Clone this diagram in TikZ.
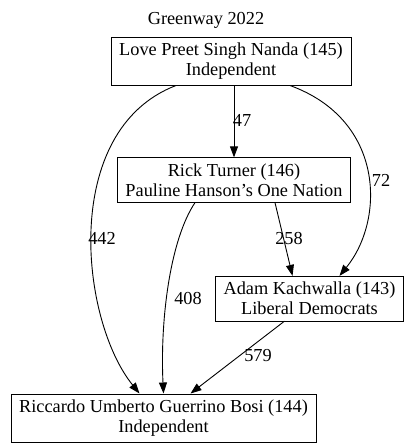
\documentclass[tikz,border=0pt]{standalone}
\usepackage{fontspec}
\setmainfont{Liberation Serif}
\usetikzlibrary{arrows.meta}
\tikzset{
  cand/.style={draw, align=center, inner xsep=8pt, inner ysep=6pt,
    font=\fontsize{18.3}{20}\selectfont},
  flow/.style={-{Triangle[length=11pt,width=8pt]}, line width=0.9pt},
  votes/.style={font=\fontsize{18.3}{20}\selectfont, inner sep=1pt}
}
\begin{document}
\begin{tikzpicture}[x=1pt, y=-1pt]
  \useasboundingbox (0,0) rectangle (413,448);
  \node[votes] (title) at (206,20) {Greenway 2022};
  \node[cand] (nanda) at (231,61) {Love Preet Singh Nanda (145)\\Independent};
  \node[cand] (turner) at (234,180) {Rick Turner (146)\\Pauline Hanson\char39 s One Nation};
  \node[cand] (kachwalla) at (309.5,298.5) {Adam Kachwalla (143)\\Liberal Democrats};
  \node[cand] (bosi) at (163.5,418) {Riccardo Umberto Guerrino Bosi (144)\\Independent};
  % flows of preferences
  \draw[flow] (nanda.south -| turner) -- (turner.north);
  \draw[flow] ([xshift=59pt]nanda.south) .. controls (385,120) and (385,220)
    .. ([xshift=30pt]kachwalla.north);
  \draw[flow] ([xshift=-55pt]nanda.south) .. controls (60,130) and (80,320)
    .. ([xshift=-24pt]bosi.north);
  \draw[flow] ([xshift=41pt]turner.south) -- ([xshift=-17pt]kachwalla.north);
  \draw[flow] ([xshift=-39pt]turner.south) .. controls (170,240) and (160,320)
    .. (bosi.north);
  \draw[flow] ([xshift=-25pt]kachwalla.south) -- ([xshift=27pt]bosi.north);
  \node[votes] (v47) at (242,120) {47};
  \node[votes] (v72) at (381,180) {72};
  \node[votes] (v442) at (102,238) {442};
  \node[votes] (v258) at (289,238) {258};
  \node[votes] (v408) at (188,298) {408};
  \node[votes] (v579) at (258,356) {579};
\end{tikzpicture}
\end{document}
